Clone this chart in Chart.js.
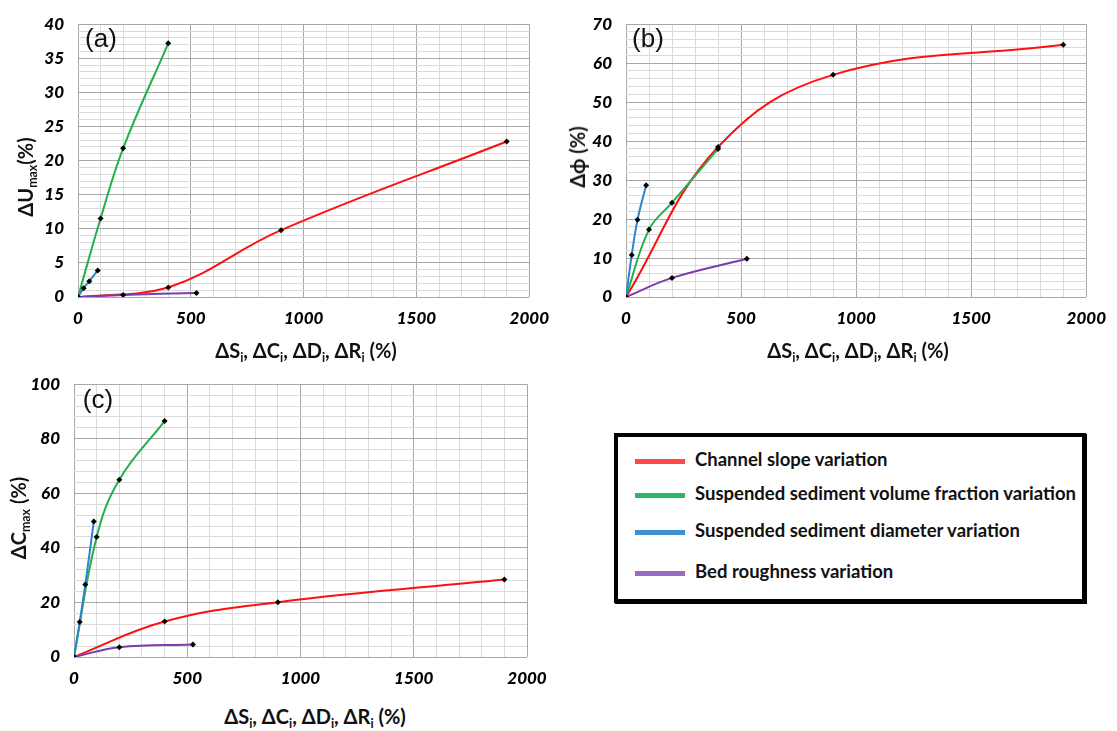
<!DOCTYPE html>
<html>
<head>
<meta charset="utf-8">
<script src="https://cdn.jsdelivr.net/npm/chart.js@4.4.1/dist/chart.umd.min.js"></script>
<style>
body { margin:0; background:#fff; width:1117px; height:731px; position:relative; overflow:hidden; font-family: Lato, "Open Sans", sans-serif; }
canvas.panel { position:absolute; }
.lbl { position:absolute; white-space:nowrap; color:#111; transform:translate(-50%,-50%); }
.title { font-weight:700; font-size:20px; }
.rot { transform:translate(-50%,-50%) rotate(-90deg); }
.tag { font-family:"Liberation Sans", Arial, sans-serif; font-size:26px; }
sub { font-size:0.62em; vertical-align:-0.3em; line-height:0; }
#legend { position:absolute; left:614px; top:433px; width:464px; height:162px; border:4px solid #000; box-shadow:1px 1px 0 #000; }
#legend .row { position:absolute; left:17px; font-weight:700; font-size:18.5px; color:#111; white-space:nowrap; }
#legend .sw { display:inline-block; width:50px; height:5px; margin-right:10px; vertical-align:middle; }
</style>
</head>
<body>
<canvas id="chartA" class="panel" width="560" height="340" style="left:0;top:0"></canvas>
<canvas id="chartB" class="panel" width="557" height="340" style="left:560px;top:0"></canvas>
<canvas id="chartC" class="panel" width="560" height="340" style="left:0;top:360px"></canvas>

<div class="lbl tag" style="left:101px;top:38px">(a)</div>
<div class="lbl tag" style="left:648px;top:38px">(b)</div>
<div class="lbl tag" style="left:98px;top:399px">(c)</div>

<div class="lbl title rot" style="left:25px;top:177px">ΔU<sub>max</sub>(%)</div>
<div class="lbl title rot" style="left:577px;top:157px">Δϕ (%)</div>
<div class="lbl title rot" style="left:18px;top:518px">ΔC<sub>max</sub> (%)</div>

<div class="lbl title" style="left:306px;top:350px">ΔS<sub>i</sub>, ΔC<sub>i</sub>, ΔD<sub>i</sub>, ΔR<sub>i</sub> (%)</div>
<div class="lbl title" style="left:858px;top:350px">ΔS<sub>i</sub>, ΔC<sub>i</sub>, ΔD<sub>i</sub>, ΔR<sub>i</sub> (%)</div>
<div class="lbl title" style="left:315px;top:716px">ΔS<sub>i</sub>, ΔC<sub>i</sub>, ΔD<sub>i</sub>, ΔR<sub>i</sub> (%)</div>

<div id="legend"></div>

<script>
// series names and colours
const seriesNames = ['Channel slope variation', 'Suspended sediment volume fraction variation',
                     'Suspended sediment diameter variation', 'Bed roughness variation'];
const lineColors = ['#ff1010', '#22b04c', '#2d84cc', '#7a3cae'];
const legendColors = ['#ff4848', '#2cb866', '#3f90d2', '#9a6cc0'];

// x values (%) for each series
const slopeX = [0, 400, 900, 1900];
const fractionX = [0, 100, 200, 400];
const diameterX = [0, 25, 50, 87.5];
const roughnessX = [0, 200, 525];

// (a) ΔUmax (%)
const slopeU = [0, 1.4, 9.8, 22.8];
const fractionU = [0, 11.5, 21.8, 37.2];
const diameterU = [0, 1.3, 2.3, 3.9];
const roughnessU = [0, 0.3, 0.6];

// (b) Δϕ (%)
const slopePhi = [0, 38.5, 57, 64.7];
const fractionPhi = [0, 17.3, 24.2, 38];
const diameterPhi = [0, 10.8, 19.8, 28.7];
const roughnessPhi = [0, 4.9, 9.8];

// (c) ΔCmax (%)
const slopeC = [0, 13, 20.1, 28.4];
const fractionC = [0, 44, 65, 86.5];
const diameterC = [0, 12.8, 26.6, 49.7];
const roughnessC = [0, 3.6, 4.6];

function pts(xs, ys) {
    return xs.map((x, i) => ({ x: x, y: ys[i] }));
}

const tickFont = { family: 'Lato', size: 17, weight: '900', style: 'italic' };

function createPanel(id, ys, yMax, yStep, yMajor, axisWidth, padRight, padTop) {
    const xs = [slopeX, fractionX, diameterX, roughnessX];
    const datasets = ys.map((y, i) => ({
        label: seriesNames[i],
        data: pts(xs[i], y),
        borderColor: lineColors[i],
        borderWidth: 2,
        tension: 0.4,
        pointStyle: 'rectRot',
        pointRadius: 3,
        pointBackgroundColor: '#000',
        pointBorderColor: '#000',
        pointBorderWidth: 0,
        order: 4 - i
    }));
    return new Chart(document.getElementById(id), {
        type: 'line',
        data: { datasets: datasets },
        options: {
            responsive: false,
            animation: false,
            layout: { padding: { left: 0, right: padRight, top: padTop, bottom: 0 } },
            plugins: { legend: { display: false }, tooltip: { enabled: false } },
            events: [],
            scales: {
                x: {
                    type: 'linear', min: 0, max: 2000,
                    border: { display: false },
                    grid: { drawTicks: false, color: c => c.tick.value % 500 === 0 ? '#a8a8a8' : '#dadada' },
                    ticks: { stepSize: 100, autoSkip: false, maxRotation: 0, padding: 11, color: '#000', font: tickFont,
                             callback: v => v % 500 === 0 ? v : '' },
                    afterFit: s => { s.height = 43; }
                },
                y: {
                    type: 'linear', min: 0, max: yMax,
                    border: { display: false },
                    grid: { drawTicks: false, color: c => c.tick.value % yMajor === 0 ? '#a8a8a8' : '#dadada' },
                    ticks: { stepSize: yStep, autoSkip: false, padding: 14, color: '#000', font: tickFont,
                             callback: v => v % yMajor === 0 ? v : '' },
                    afterFit: s => { s.width = axisWidth; }
                }
            }
        }
    });
}

function drawAll() {
    createPanel('chartA', [slopeU, fractionU, diameterU, roughnessU], 40, 1, 5, 78, 22, 17);
    createPanel('chartB', [slopePhi, fractionPhi, diameterPhi, roughnessPhi], 70, 2, 10, 66, 25, 15);
    createPanel('chartC', [slopeC, fractionC, diameterC, roughnessC], 100, 4, 20, 74, 33, 18);
}

// shared legend
const legendTops = [11, 45, 82, 123];
const legend = document.getElementById('legend');
seriesNames.forEach((name, i) => {
    const row = document.createElement('div');
    row.className = 'row';
    row.style.top = legendTops[i] + 'px';
    row.innerHTML = '<span class="sw" style="background:' + legendColors[i] + '"></span>' + name;
    legend.appendChild(row);
});

document.fonts.load('italic 900 17px Lato').then(drawAll, drawAll);
</script>
</body>
</html>
